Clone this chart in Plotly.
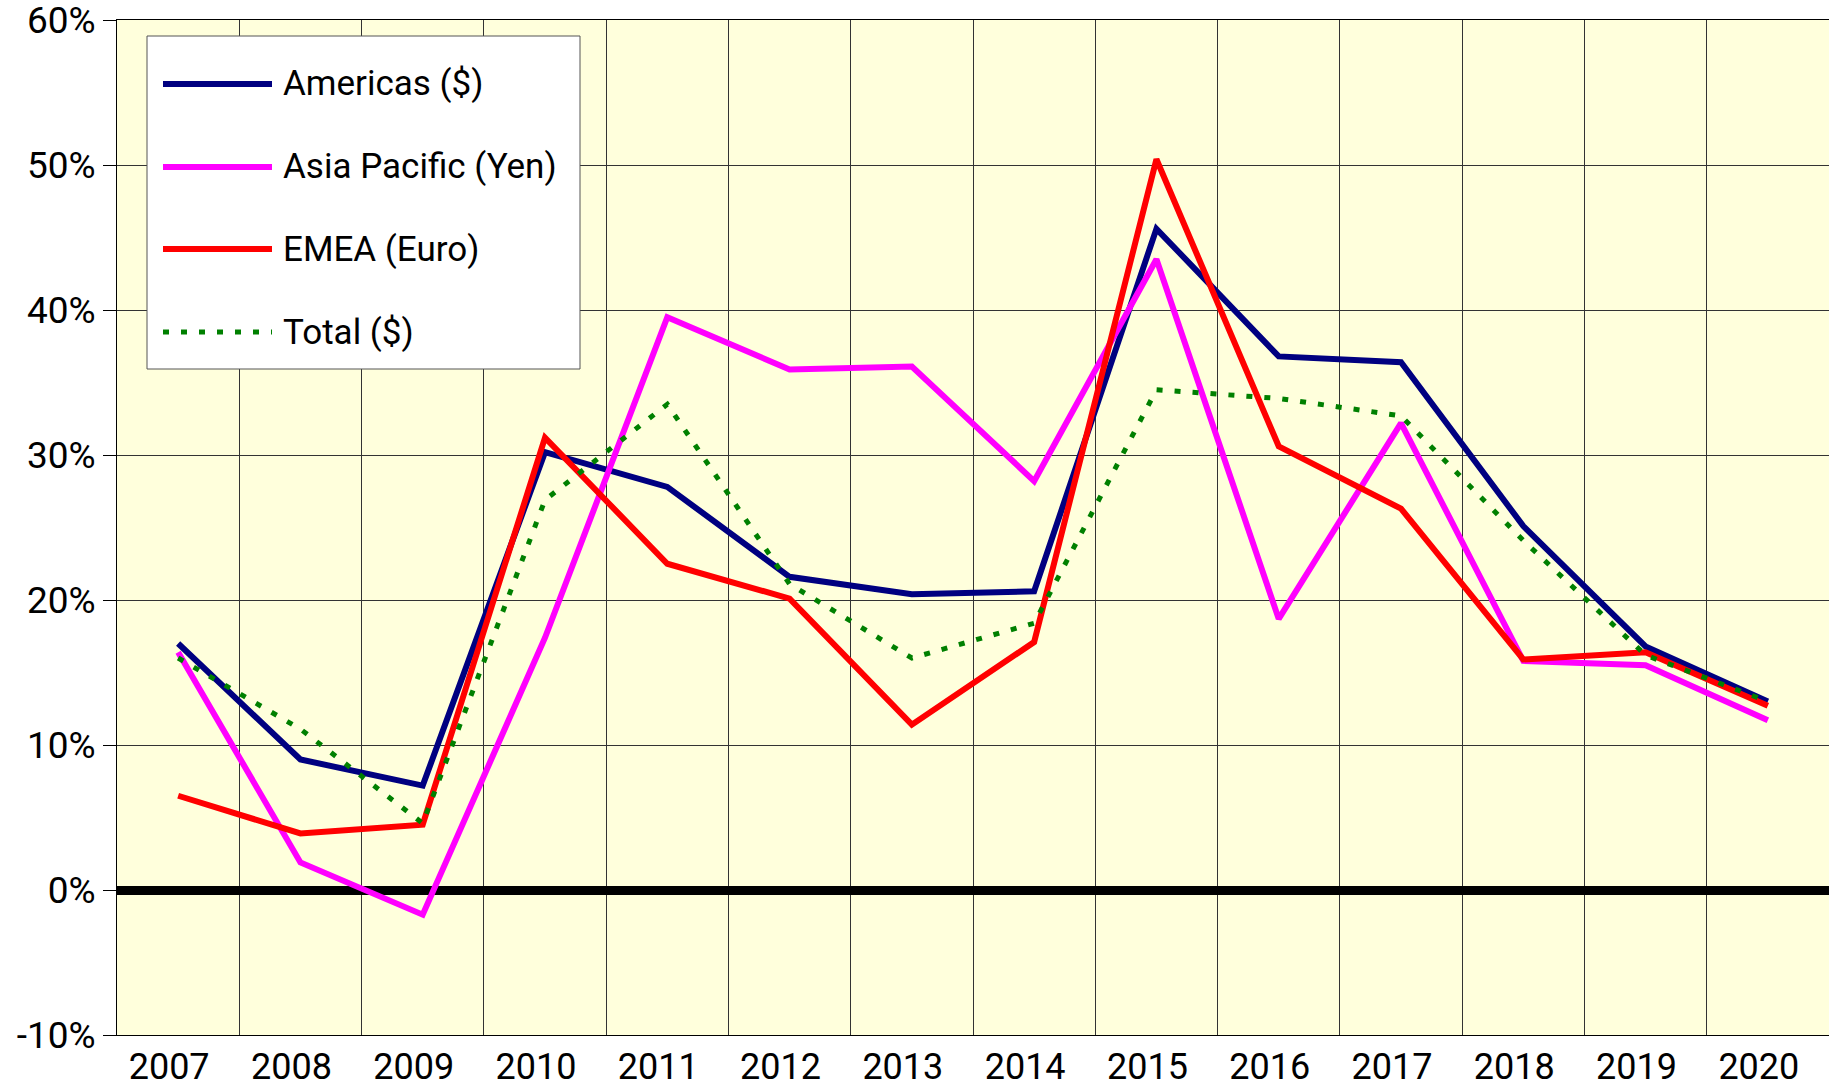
import plotly.graph_objects as go

years = ["2007", "2008", "2009", "2010", "2011", "2012", "2013",
         "2014", "2015", "2016", "2017", "2018", "2019", "2020"]
americas = [17.0, 9.0, 7.2, 30.2, 27.8, 21.6, 20.4, 20.6, 45.6, 36.8, 36.4, 25.1, 16.8, 13.0]
asia_pacific = [16.4, 1.9, -1.7, 17.4, 39.5, 35.9, 36.1, 28.2, 43.5, 18.7, 32.2, 15.8, 15.5, 11.7]
emea = [6.5, 3.9, 4.5, 31.2, 22.5, 20.1, 11.4, 17.1, 50.4, 30.6, 26.3, 15.9, 16.4, 12.7]
total = [16.0, 11.1, 4.6, 26.9, 33.5, 21.1, 16.0, 18.4, 34.5, 33.9, 32.7, 24.1, 16.2, 13.0]

y_tick_values = [-10, 0, 10, 20, 30, 40, 50, 60]
y_tick_labels = ["-10%", "0%", "10%", "20%", "30%", "40%", "50%", "60%"]

series_names = ["Americas ($)", "Asia Pacific (Yen)", "EMEA (Euro)", "Total ($)"]
series_values = [americas, asia_pacific, emea, total]
series_colors = ["#000080", "#FF00FF", "#FF0000", "#008000"]
series_widths = [6, 6, 6, 5]
series_dash = ["solid", "solid", "solid", "6px,12px"]

FONT = "Roboto, 'Open Sans', sans-serif"

W, H = 1829, 1087
ML, MR, MT, MB = 117, 0, 20, 52
PW, PH = W - ML - MR, H - MT - MB

fig = go.Figure()
for name, vals, col, wd, ds in zip(series_names, series_values, series_colors, series_widths, series_dash):
    fig.add_trace(go.Scatter(x=years, y=vals, name=name, mode="lines",
                             line=dict(color=col, width=wd, dash=ds),
                             showlegend=False))

# manual legend (page pixel -> paper coordinates)
def px(x):
    return (x - ML) / PW

def py(y):
    return (H - MB - y) / PH

shapes = [dict(type="rect", xref="paper", yref="paper",
               x0=px(147), x1=px(580), y0=py(369), y1=py(36),
               fillcolor="white", line=dict(color="#555555", width=1), layer="above")]
annotations = []
rows = [84, 167, 249, 332]
for name, col, wd, ds, ry in zip(series_names, series_colors, series_widths, series_dash, rows):
    shapes.append(dict(type="line", xref="paper", yref="paper",
                       x0=px(163), x1=px(272), y0=py(ry), y1=py(ry),
                       line=dict(color=col, width=wd, dash=ds), layer="above"))
    annotations.append(dict(xref="paper", yref="paper", x=px(281), y=py(ry),
                            text=name, showarrow=False, xanchor="left", yanchor="middle",
                            font=dict(family=FONT, size=35, color="black")))

fig.update_layout(
    width=W, height=H,
    margin=dict(l=ML, r=MR, t=MT, b=MB, autoexpand=False),
    paper_bgcolor="white",
    plot_bgcolor="#FFFFDC",
    font=dict(family=FONT, size=36, color="black"),
    shapes=shapes,
    annotations=annotations,
    showlegend=False,
)
fig.update_xaxes(
    type="category", range=[-0.5, 13.5], tickson="boundaries",
    showgrid=True, gridcolor="#333333", gridwidth=1,
    showline=True, linecolor="black", linewidth=1, mirror=True,
    ticks="", ticklabelstandoff=0, ticklabelshift=-9, automargin=False,
    tickfont=dict(family=FONT, size=36, color="black"),
)
fig.update_yaxes(
    range=[-10, 60], tickmode="array", tickvals=y_tick_values, ticktext=y_tick_labels,
    showgrid=True, gridcolor="#333333", gridwidth=1,
    zeroline=True, zerolinecolor="black", zerolinewidth=9,
    showline=True, linecolor="black", linewidth=1, mirror=False,
    ticks="outside", ticklen=13, tickcolor="black", automargin=False,
    ticklabeloverflow="allow",
    tickfont=dict(family=FONT, size=37, color="black"),
)

fig.write_html(
    "out.html",
    config={"displayModeBar": False},
    post_script="document.body.style.margin='0';document.body.style.overflow='hidden';",
)
